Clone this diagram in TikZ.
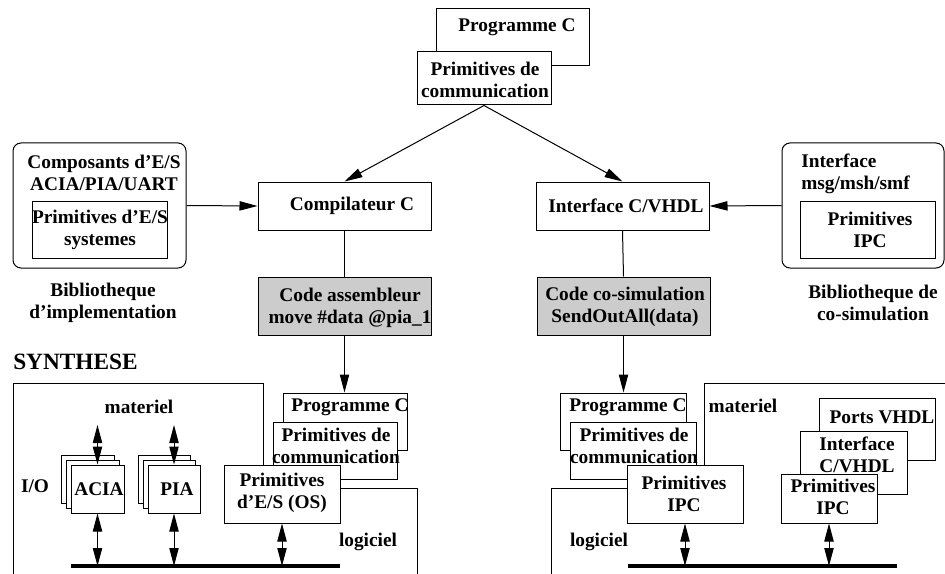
\documentclass[tikz,border=0pt]{standalone}
\usepackage{fontspec}
\setmainfont{Liberation Serif}
\usetikzlibrary{arrows.meta,fit,positioning}

\begin{document}
\begin{tikzpicture}[x=0.75pt, y=-0.75pt,
    box/.style={draw, fill=white, inner sep=0pt, line width=0.75pt},
    gbox/.style={box, fill=black!20},
    lib/.style={box, rounded corners=6pt},
    txt/.style={align=center, inner sep=0pt, font=\fontsize{14.5}{16.5}\selectfont\bfseries},
    arr/.style={-{Triangle[length=13.5pt,width=7pt]}, line width=0.75pt},
    darr/.style={{Triangle[length=13.5pt,width=7pt]}-{Triangle[length=13.5pt,width=7pt]}, line width=0.75pt},
    wire/.style={line width=0.75pt},
    bus/.style={line width=2.4pt}]
  \useasboundingbox (0,0) rectangle (945,574);

  % programme du haut
  \node[box, fit={(436,9) (589,66)}]   (pgmTop)   {};
  \node[txt] (pgmTopT) at (517,27)                {Programme C};
  \node[box, fit={(417,52) (551,105)}] (commTop)  {};
  \node[txt] (commTopT) at (485,80)               {Primitives de\\communication};

  % compilation
  \node[box, fit={(258,182) (431,230)}]  (comp)   {};
  \node[txt] (compT) at (352,206)                 {Compilateur C};
  \node[box, fit={(536,182) (709,230)}]  (ifc)    {};
  \node[txt] (ifcT) at (626,206)                  {Interface C/VHDL};
  \node[gbox, fit={(258,277) (431,335)}] (asm)    {};
  \node[txt] (asmT) at (350,308)                  {Code assembleur\\move \#data @pia\_1};
  \node[gbox, fit={(537,277) (710,335)}] (cosim)  {};
  \node[txt] (cosimT) at (625,307)                {Code co-simulation\\SendOutAll(data)};

  % bibliotheques
  \node[lib, fit={(13,143) (186,268)}]  (libL)    {};
  \node[txt] (libLT) at (104,173)                 {Composants d'E/S\\ACIA/PIA/UART};
  \node[box, fit={(32,201) (167,258)}]  (libLin)  {};
  \node[txt] (libLinT) at (100,230)               {Primitives d'E/S\\systemes};
  \node[txt] (bibL) at (103,303)                  {Bibliotheque\\d'implementation};

  \node[lib, fit={(782,143) (944,268)}] (libR)    {};
  \node[txt, align=left, anchor=west] (libRT) at (801,174) {Interface\\msg/msh/smf};
  \node[box, fit={(800,201) (935,258)}] (libRin)  {};
  \node[txt] (libRinT) at (870,230)               {Primitives\\IPC};
  \node[txt] (bibR) at (873,303)                  {Bibliotheque de\\co-simulation};

  \node[txt, anchor=west, font=\fontsize{17.5}{19}\selectfont\bfseries] (synth) at (13,362) {SYNTHESE};

  \path
    (commTop.south) edge[arr] (comp.north)
    (commTop.south) edge[arr] (ifc.north)
    (libL.east)     edge[arr] (comp.west)
    (libR.west)     edge[arr] (ifc.east)
    (comp.south)    edge[wire] (asm.north)
    (ifc.south)     edge[wire] (cosim.north)
    ;

  % synthese : materiel / logiciel
  \draw[wire] (263,465) -- (263,383) -- (13,383) -- (13,574);
  \node[txt] (matLT) at (139,407) {materiel};
  \node[txt] (io)    at (35,486)  {I/O};
  \node[box, fit={(61,455) (114,503)}]  (acia3) {};
  \node[box, fit={(66,460) (119,508)}]  (acia2) {};
  \node[box, fit={(71,465) (124,513)}]  (acia)  {};
  \node[txt] (aciaT) at (99,489)                {ACIA};
  \node[box, fit={(138,455) (190,503)}] (pia3)  {};
  \node[box, fit={(143,460) (195,508)}] (pia2)  {};
  \node[box, fit={(148,465) (200,513)}] (pia)   {};
  \node[txt] (piaT) at (177,489)                {PIA};

  \node[box, fit={(283,393) (407,450)}] (pgmL)  {};
  \node[txt] (pgmLT) at (350,407)               {Programme C};
  \node[box, fit={(273,422) (397,479)}] (commL) {};
  \node[txt] (commLT) at (336,446)              {Primitives de\\communication};
  \node[box, fit={(224,465) (340,523)}] (osL)   {};
  \node[txt] (osLT) at (282,493)                {Primitives\\d'E/S (OS)};
  \draw[wire] (340,488) -- (417,488) -- (417,574);
  \node[txt] (logLT) at (368,542) {logiciel};

  \coordinate (aciaTop) at (acia.north |- 0,425);
  \coordinate (piaTop)  at (pia.north |- 0,425);
  \coordinate (busL)    at (71,566);
  \coordinate (busLe)   at (340,566);
  \draw[bus] (busL) -- (busLe);
  \draw[darr] (aciaTop) -- (acia.north);
  \draw[darr] (piaTop) -- (pia.north);
  \draw[darr] (acia.south) -- (acia.south |- busL);
  \draw[darr] (pia.south) -- (pia.south |- busL);
  \draw[darr] (osL.south) -- (osL.south |- busL);
  \draw[arr] (asm.south) -- (asm.south |- pgmL.north);

  % co-simulation
  \draw[wire] (704,465) -- (704,383) -- (945,383);
  \node[txt] (matRT) at (743,406) {materiel};
  \node[box, fit={(560,393) (686,450)}] (pgmR)  {};
  \node[txt] (pgmRT) at (628,407)               {Programme C};
  \node[box, fit={(570,422) (696,479)}] (commR) {};
  \node[txt] (commRT) at (634,446)              {Primitives de\\communication};
  \node[box, fit={(627,465) (743,523)}] (ipcL)  {};
  \node[txt] (ipcLT) at (684,494)               {Primitives\\IPC};
  \draw[wire] (627,488) -- (551,488) -- (551,574);
  \node[txt] (logRT) at (599,542) {logiciel};

  \node[box, fit={(819,398) (935,460)}] (ports) {};
  \node[txt] (portsT) at (882,417)              {Ports VHDL};
  \node[box, fit={(800,431) (907,494)}] (ifcR)  {};
  \node[txt] (ifcRT) at (857,455)               {Interface\\C/VHDL};
  \node[box, fit={(781,474) (877,523)}] (ipcR)  {};
  \node[txt] (ipcRT) at (833,497)               {Primitives\\IPC};

  \coordinate (busR)  at (628,566);
  \coordinate (busRe) at (897,566);
  \draw[bus] (busR) -- (busRe);
  \draw[darr] (ipcL.south) -- (ipcL.south |- busR);
  \draw[darr] (ipcR.south) -- (ipcR.south |- busR);
  \draw[arr] (cosim.south) -- (cosim.south |- pgmR.north);
\end{tikzpicture}
\end{document}
